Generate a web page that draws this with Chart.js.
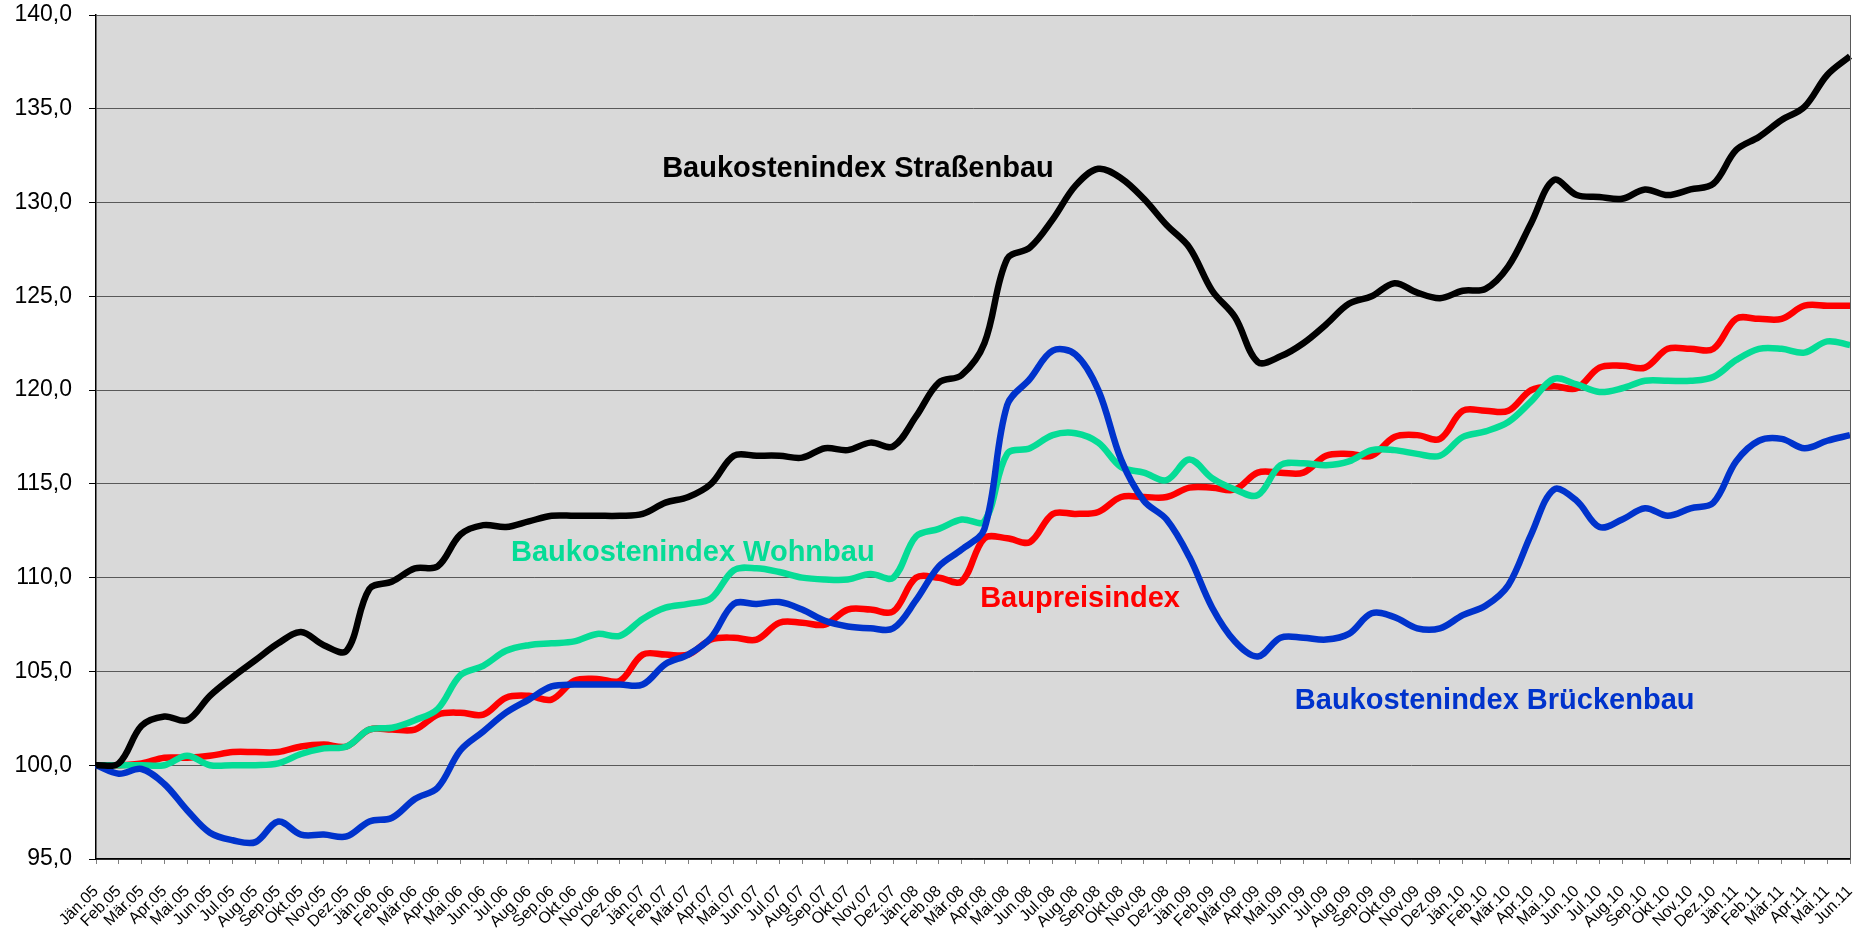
<!DOCTYPE html>
<html>
<head>
<meta charset="utf-8">
<script src="https://cdn.jsdelivr.net/npm/chart.js@4.4.0/dist/chart.umd.min.js"></script>
<style>
  html, body { margin: 0; padding: 0; background: #fff; }
  #wrap { width: 1870px; height: 933px; position: relative; }
</style>
</head>
<body>
<div id="wrap"><canvas id="indexChart"></canvas></div>
<script>
// Monate Jän.05 - Jun.11
const months = [
  'Jän.05', 'Feb.05', 'Mär.05', 'Apr.05', 'Mai.05', 'Jun.05', 'Jul.05', 'Aug.05', 'Sep.05', 'Okt.05', 'Nov.05', 'Dez.05',
  'Jän.06', 'Feb.06', 'Mär.06', 'Apr.06', 'Mai.06', 'Jun.06', 'Jul.06', 'Aug.06', 'Sep.06', 'Okt.06', 'Nov.06', 'Dez.06',
  'Jän.07', 'Feb.07', 'Mär.07', 'Apr.07', 'Mai.07', 'Jun.07', 'Jul.07', 'Aug.07', 'Sep.07', 'Okt.07', 'Nov.07', 'Dez.07',
  'Jän.08', 'Feb.08', 'Mär.08', 'Apr.08', 'Mai.08', 'Jun.08', 'Jul.08', 'Aug.08', 'Sep.08', 'Okt.08', 'Nov.08', 'Dez.08',
  'Jän.09', 'Feb.09', 'Mär.09', 'Apr.09', 'Mai.09', 'Jun.09', 'Jul.09', 'Aug.09', 'Sep.09', 'Okt.09', 'Nov.09', 'Dez.09',
  'Jän.10', 'Feb.10', 'Mär.10', 'Apr.10', 'Mai.10', 'Jun.10', 'Jul.10', 'Aug.10', 'Sep.10', 'Okt.10', 'Nov.10', 'Dez.10',
  'Jän.11', 'Feb.11', 'Mär.11', 'Apr.11', 'Mai.11', 'Jun.11'
];

const strassenbau = [
  100.0, 100.1, 102.1, 102.6, 102.4, 103.7, 104.7, 105.6, 106.5, 107.1, 106.4, 106.1,
  109.4, 109.8, 110.5, 110.6, 112.3, 112.8, 112.7, 113.0, 113.3, 113.3, 113.3, 113.3,
  113.4, 114.0, 114.3, 115.0, 116.5, 116.5, 116.5, 116.4, 116.9, 116.8, 117.2, 117.0,
  118.6, 120.4, 120.8, 122.5, 127.0, 127.6, 129.1, 130.9, 131.8, 131.3, 130.2, 128.8,
  127.6, 125.3, 123.9, 121.5, 121.8, 122.5, 123.5, 124.6, 125.0, 125.7, 125.2, 124.9,
  125.3, 125.4, 126.6, 128.9, 131.2, 130.4, 130.3, 130.2, 130.7, 130.4, 130.7, 131.0,
  132.8, 133.5, 134.4, 135.1, 136.8, 137.8
];

const wohnbau = [
  100.0, 100.0, 100.0, 100.0, 100.5, 100.0, 100.0, 100.0, 100.1, 100.6, 100.9, 101.0,
  101.9, 102.0, 102.4, 103.0, 104.8, 105.3, 106.1, 106.4, 106.5, 106.6, 107.0, 106.9,
  107.8, 108.4, 108.6, 108.9, 110.4, 110.5, 110.3, 110.0, 109.9, 109.9, 110.2, 110.0,
  112.2, 112.6, 113.1, 113.0, 116.6, 116.9, 117.6, 117.7, 117.2, 115.9, 115.6, 115.2,
  116.3, 115.3, 114.7, 114.4, 116.0, 116.1, 116.0, 116.2, 116.8, 116.8, 116.6, 116.5,
  117.5, 117.8, 118.3, 119.4, 120.6, 120.3, 119.9, 120.1, 120.5, 120.5, 120.5, 120.7,
  121.6, 122.2, 122.2, 122.0, 122.6, 122.4
];

const baupreis = [
  100.0, 100.0, 100.1, 100.4, 100.4, 100.5, 100.7, 100.7, 100.7, 101.0, 101.1, 101.0,
  101.9, 101.9, 101.9, 102.7, 102.8, 102.7, 103.6, 103.7, 103.5, 104.5, 104.6, 104.5,
  105.9, 105.9, 105.9, 106.7, 106.8, 106.7, 107.6, 107.6, 107.5, 108.3, 108.3, 108.2,
  110.0, 110.0, 109.8, 112.1, 112.1, 111.9, 113.4, 113.4, 113.5, 114.3, 114.3, 114.3,
  114.8, 114.8, 114.7, 115.6, 115.6, 115.6, 116.5, 116.6, 116.5, 117.5, 117.6, 117.4,
  118.9, 118.9, 118.9, 120.0, 120.2, 120.1, 121.2, 121.3, 121.2, 122.2, 122.2, 122.2,
  123.8, 123.8, 123.8, 124.5, 124.5, 124.5
];

const brueckenbau = [
  100.0, 99.55, 99.8, 99.0, 97.6, 96.4, 96.0, 95.9, 97.0, 96.3, 96.3, 96.2,
  97.0, 97.2, 98.2, 98.8, 100.8, 101.8, 102.8, 103.5, 104.2, 104.3, 104.3, 104.3,
  104.3, 105.4, 105.9, 106.8, 108.6, 108.6, 108.7, 108.3, 107.7, 107.4, 107.3, 107.3,
  108.8, 110.6, 111.5, 112.6, 119.2, 120.6, 122.1, 121.9, 120.0, 116.3, 114.1, 113.1,
  111.1, 108.4, 106.6, 105.8, 106.8, 106.8, 106.7, 107.0, 108.1, 107.9, 107.3, 107.3,
  108.0, 108.5, 109.6, 112.3, 114.7, 114.1, 112.7, 113.1, 113.7, 113.3, 113.7, 114.0,
  116.2, 117.3, 117.4, 116.9, 117.3, 117.6
];

// y-Achse
const yMin = 95;
const yMax = 140;
const yStep = 5;

// Beschriftungen im Diagramm: Text, Farbe, Monatsindex (Mitte), Wert
const seriesLabels = [
  { text: 'Baukostenindex Straßenbau', color: '#000000', at: 33.45, value: 131.8 },
  { text: 'Baukostenindex Wohnbau', color: '#05dc96', at: 26.2, value: 111.3 },
  { text: 'Baupreisindex', color: '#ff0000', at: 43.2, value: 108.85 },
  { text: 'Baukostenindex Brückenbau', color: '#0033cc', at: 61.4, value: 103.45 }
];

const FONT = 'Arial, "Liberation Sans", Helvetica, sans-serif';

// grauer Hintergrund + Rahmen rechts
const plotBackground = {
  id: 'plotBackground',
  beforeDraw(chart) {
    const { ctx, chartArea: a } = chart;
    ctx.save();
    ctx.fillStyle = '#d9d9d9';
    ctx.fillRect(a.left, a.top, a.right - a.left, a.bottom - a.top);
    ctx.restore();
  },
  afterDraw(chart) {
    const { ctx, chartArea: a } = chart;
    ctx.save();
    ctx.strokeStyle = '#595959';
    ctx.lineWidth = 1;
    ctx.beginPath();
    ctx.moveTo(a.right + 0.5, a.top);
    ctx.lineTo(a.right + 0.5, a.bottom);
    ctx.stroke();
    ctx.restore();
  }
};

const seriesText = {
  id: 'seriesText',
  afterDatasetsDraw(chart) {
    const { ctx, scales } = chart;
    ctx.save();
    ctx.font = 'bold 29px ' + FONT;
    ctx.textAlign = 'center';
    ctx.textBaseline = 'middle';
    seriesLabels.forEach(l => {
      ctx.fillStyle = l.color;
      ctx.fillText(l.text, scales.x.getPixelForValue(l.at), scales.y.getPixelForValue(l.value));
    });
    ctx.restore();
  }
};

const lineStyle = (label, data, color, order) => ({
  label: label,
  data: data,
  borderColor: color,
  backgroundColor: color,
  borderWidth: 6.5,
  pointRadius: 0,
  pointHoverRadius: 0,
  tension: 0.35,
  fill: false,
  order: order
});

new Chart(document.getElementById('indexChart'), {
  type: 'line',
  data: {
    labels: months,
    datasets: [
      lineStyle('Baupreisindex', baupreis, '#ff0000', 4),
      lineStyle('Baukostenindex Wohnbau', wohnbau, '#05dc96', 3),
      lineStyle('Baukostenindex Brückenbau', brueckenbau, '#0033cc', 2),
      lineStyle('Baukostenindex Straßenbau', strassenbau, '#000000', 1)
    ]
  },
  options: {
    responsive: true,
    maintainAspectRatio: false,
    animation: false,
    layout: { padding: { top: 15, right: 20, left: 0, bottom: 0 } },
    plugins: {
      legend: { display: false },
      tooltip: { enabled: false }
    },
    scales: {
      x: {
        offset: false,
        grid: { drawOnChartArea: false, drawTicks: true, tickLength: 5, tickColor: '#808080' },
        border: { color: '#000000', width: 1.5 },
        ticks: {
          autoSkip: false,
          maxRotation: 45,
          minRotation: 45,
          padding: 18,
          color: '#000000',
          font: { family: FONT, size: 16 }
        },
        afterFit(axis) {
          axis.height = 74;
          axis.paddingLeft = 0;
          axis.paddingRight = 0;
        }
      },
      y: {
        min: yMin,
        max: yMax,
        grid: { color: '#595959', lineWidth: 1, tickLength: 7, tickColor: '#000000' },
        border: { color: '#000000', width: 1.5 },
        ticks: {
          stepSize: yStep,
          padding: 17,
          color: '#000000',
          font: { family: FONT, size: 23 },
          callback: v => v.toFixed(1).replace('.', ',')
        },
        afterFit(axis) {
          axis.width = 96;
          axis.paddingTop = 0;
          axis.paddingBottom = 0;
        }
      }
    }
  },
  plugins: [plotBackground, seriesText]
});
</script>
</body>
</html>
